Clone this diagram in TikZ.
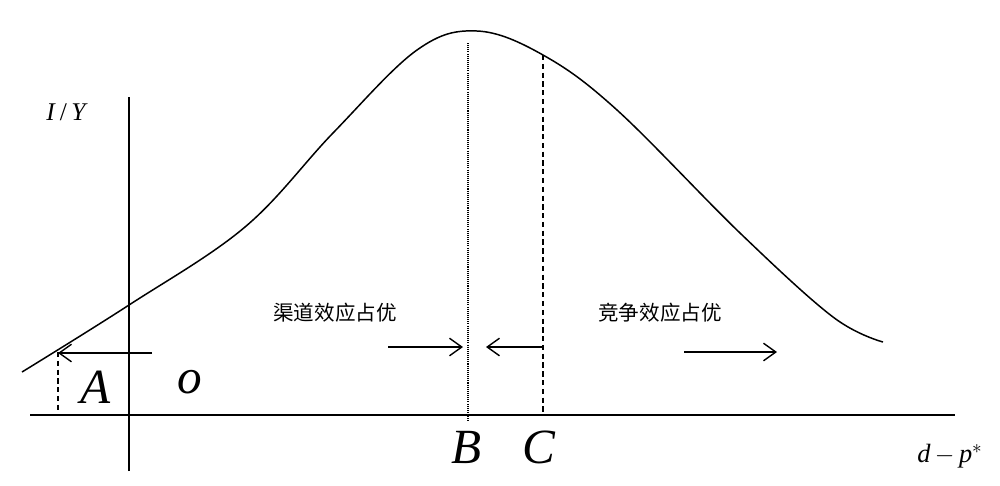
\documentclass[tikz,border=0pt]{standalone}
\usepackage{fontspec}
\setmainfont{Liberation Serif}
\newfontfamily\cjk{Noto Sans CJK SC}
\usetikzlibrary{arrows.meta}
\usetikzlibrary{positioning}

\tikzset{
  axis/.style={line width=0.85pt},
  effarrow/.style={line width=0.8pt, -{Straight Barb[length=7pt,width=10pt,line width=0.8pt]}},
  bigletter/.style={font=\fontsize{28}{30}\selectfont\itshape, inner sep=0pt},
  cjklabel/.style={font=\cjk\fontsize{11.7}{13}\selectfont, inner sep=0pt},
}

\begin{document}
\begin{tikzpicture}[x=0.02cm,y=-0.02cm]
  \useasboundingbox (0,0) rectangle (1000,485);
  %draw axes
  \coordinate (xl) at (30,415);
  \coordinate (xr) at (955,415);
  \coordinate (yb) at (129,471);
  \coordinate (yt) at (129,97);
  \draw[axis] (xl)--(xr);
  \draw[axis] (yb)--(yt);
  \node[font=\fontsize{14.5}{16}\selectfont, inner sep=0pt] (ylab) at (67,112) {\textit{I}\,/\,\textit{Y}};
  \node[font=\fontsize{15}{17}\selectfont, inner sep=0pt] (xlab) at (950,456) {\textit{d}\,$-$\,\textit{p}$^{*}$};
  %the curve
  \draw[line width=0.85pt] plot[smooth, tension=0.6] coordinates {(22,372) (129,305) (245,227) (333,133) (417,50) (477,31) (543,55) (617,110) (740,233) (833,317) (883,342)};
  %vertical lines at A, B and C
  \coordinate (atop) at (58,352);
  \coordinate (abot) at (58,413);
  \coordinate (btop) at (468,43);
  \coordinate (bbot) at (468,421);
  \coordinate (ctop) at (543,55);
  \coordinate (cbot) at (543,414);
  \draw[densely dashed, line width=0.8pt] (atop)--(abot);
  \draw[dash pattern=on 0.6pt off 0.6pt, line width=0.6pt] (btop)--(bbot);
  \draw[densely dashed, line width=0.8pt] (ctop)--(cbot);
  %arrows
  \coordinate (ao) at (152,353);
  \coordinate (ai) at (58,353);
  \coordinate (b1) at (388,347);
  \coordinate (b2) at (463,347);
  \coordinate (c1) at (543,347);
  \coordinate (c2) at (486,347);
  \coordinate (d1) at (684,352);
  \coordinate (d2) at (777,352);
  \draw[effarrow] (ao)--(ai);
  \draw[effarrow] (b1)--(b2);
  \draw[effarrow] (c1)--(c2);
  \draw[effarrow] (d1)--(d2);
  %labels
  \node[cjklabel] (chan) at (335,313) {渠道效应占优};
  \node[cjklabel] (comp) at (660,313) {竞争效应占优};
  \node[bigletter] (A) at (96,387) {A};
  \node[bigletter] (O) at (190,382) {o};
  \node[bigletter] (B) at (467,447) {B};
  \node[bigletter] (C) at (539,447) {C};
\end{tikzpicture}
\end{document}
